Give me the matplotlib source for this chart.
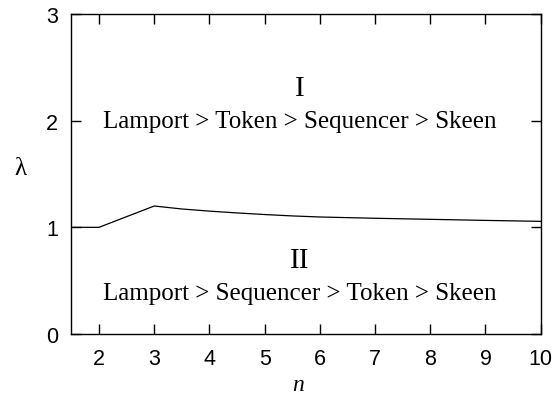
import matplotlib
matplotlib.use("Agg")
import matplotlib.pyplot as plt

n_vals = [1.5, 2.0, 3.0, 3.5, 4.0, 4.5, 5.0, 5.5, 6.0, 7.0, 8.0, 9.0, 10.0]
lam_vals = [1.0, 1.0, 1.20, 1.172, 1.152, 1.135, 1.12, 1.107, 1.097, 1.085, 1.075, 1.065, 1.056]
x_ticks = [2, 3, 4, 5, 6, 7, 8, 9, 10]
y_ticks = [0, 1, 2, 3]
region_labels = ["I", "II"]
region_orders = ["Lamport > Token > Sequencer > Skeen",
                 "Lamport > Sequencer > Token > Skeen"]

fig = plt.figure(figsize=(5.53, 4.02), dpi=100)
ax = fig.add_axes([71.4/553, 1-335/402, (540.7-71.4)/553, 320/402])
ax.plot(n_vals, lam_vals, color="black", lw=0.9)
ax.set_xlim(1.5, 10)
ax.set_ylim(0, 3)
ax.set_xticks(x_ticks)
ax.set_yticks(y_ticks)
sans = "Liberation Sans"
serif = "Liberation Serif"
for lab in ax.get_xticklabels() + ax.get_yticklabels():
    lab.set_fontfamily(sans)
    lab.set_fontsize(15.5)
ax.tick_params(direction="in", length=7, width=1, top=True, right=True)
ax.tick_params(axis="x", pad=10)
ax.tick_params(axis="y", pad=9.5)
for s in ax.spines.values():
    s.set_linewidth(1)

xc = 5.64
ax.text(xc, 2.31, region_labels[0], fontfamily=serif, fontsize=21, ha="center", va="center")
ax.text(xc, 2.0, region_orders[0], fontfamily=serif, fontsize=18, ha="center", va="center")
ax.text(xc, 0.69, region_labels[1], fontfamily=serif, fontsize=21, ha="center", va="center")
ax.text(xc, 0.38, region_orders[1], fontfamily=serif, fontsize=18, ha="center", va="center")

fig.text(20/553, 1-169/402, "λ", fontfamily=serif, fontsize=18, ha="center", va="center")
fig.text(298/553, 1-386/402, "n", fontfamily=serif, style="italic", fontsize=17, ha="center", va="center")

fig.savefig("out.png", dpi=100)
